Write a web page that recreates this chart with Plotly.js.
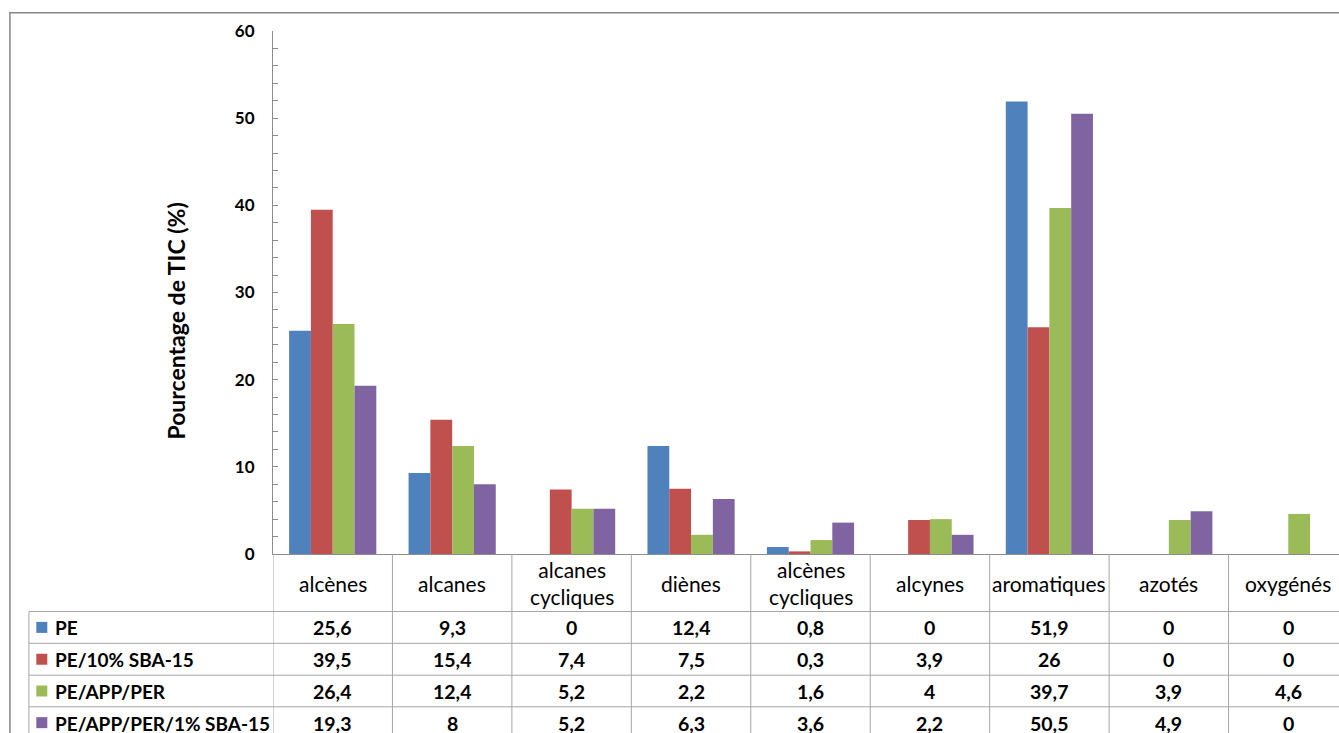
<!DOCTYPE html>
<html>
<head>
<meta charset="utf-8">
<script src="https://cdn.plot.ly/plotly-3.0.1.min.js"></script>
<style>html,body{margin:0;padding:0;background:#fff;}#chart{width:1339px;height:733px;}</style>
</head>
<body>
<div id="chart"></div>
<script>
// ---- Data ----
const categories = ["alcènes", "alcanes", "alcanes cycliques", "diènes", "alcènes cycliques", "alcynes", "aromatiques", "azotés", "oxygénés"];
const categoryLabels = ["alcènes", "alcanes", "alcanes<br>cycliques", "diènes", "alcènes<br>cycliques", "alcynes", "aromatiques", "azotés", "oxygénés"];
const seriesNames = ["PE", "PE/10% SBA-15", "PE/APP/PER", "PE/APP/PER/1% SBA-15"];
const valuesPE = [25.6, 9.3, 0, 12.4, 0.8, 0, 51.9, 0, 0];
const valuesPE_SBA = [39.5, 15.4, 7.4, 7.5, 0.3, 3.9, 26, 0, 0];
const valuesPE_APP_PER = [26.4, 12.4, 5.2, 2.2, 1.6, 4, 39.7, 3.9, 4.6];
const valuesPE_APP_PER_SBA = [19.3, 8, 5.2, 6.3, 3.6, 2.2, 50.5, 4.9, 0];
const yTickValues = [0, 10, 20, 30, 40, 50, 60];
const yTitle = "Pourcentage de TIC (%)";

const seriesValues = [valuesPE, valuesPE_SBA, valuesPE_APP_PER, valuesPE_APP_PER_SBA];
const colors = ["#4F81BD", "#C0504D", "#9BBB59", "#8064A2"];

// ---- Geometry helpers (pixel -> paper) ----
const W = 1339, H = 733;
const L = 272.5, R = 0, T = 31, B = H - 554;
const plotW = W - L - R, plotH = H - T - B;
const colW = 119.5;
const fx = px => (px - L) / plotW;
const fy = py => (H - B - py) / plotH;

const fontFam = "Lato, 'Open Sans', sans-serif";
const gridCol = "#a6a6a6";

const traces = seriesNames.map((name, i) => ({
  type: "bar",
  name: name,
  x: categories,
  y: seriesValues[i],
  marker: { color: colors[i], line: { width: 0 } },
  hovertemplate: "%{x}: %{y}<extra>" + name + "</extra>"
}));

const shapes = [];
const annotations = [];

// outer chart border
shapes.push({ type: "rect", xref: "paper", yref: "paper",
  x0: fx(9.3), x1: fx(W + 10), y0: fy(12.7), y1: fy(H + 10),
  line: { color: "#868686", width: 1.5 }, layer: "below" });

// table vertical lines at category boundaries
for (let i = 0; i <= categories.length; i++) {
  shapes.push({ type: "line", xref: "x", yref: "paper",
    x0: i - 0.5, x1: i - 0.5, y0: fy(554), y1: fy(H + 10),
    line: { color: gridCol, width: 1 } });
}
// table left line
shapes.push({ type: "line", xref: "paper", yref: "paper",
  x0: fx(28.3), x1: fx(28.3), y0: fy(611.5), y1: fy(H + 10),
  line: { color: gridCol, width: 1 } });
// table horizontal lines
const rowLines = [611.5, 643.3, 675.2, 706.8, 738.5];
rowLines.forEach(py => {
  shapes.push({ type: "line", xref: "paper", yref: "paper",
    x0: fx(28.3), x1: fx(W + 10), y0: fy(py), y1: fy(py),
    line: { color: gridCol, width: 1 } });
});

// category labels
categoryLabels.forEach((lab, i) => {
  annotations.push({ xref: "x", yref: "paper", x: categories[i], y: fy(583),
    text: lab, showarrow: false, xanchor: "center", yanchor: "middle",
    font: { family: fontFam, size: 21, color: "#000" } });
});

// rows: legend key + values
seriesNames.forEach((name, r) => {
  const cy = (rowLines[r] + rowLines[r + 1]) / 2;
  shapes.push({ type: "rect", xref: "paper", yref: "paper",
    x0: fx(35.7), x1: fx(46.7), y0: fy(cy - 5.5), y1: fy(cy + 5.5),
    fillcolor: colors[r], line: { width: 0 } });
  annotations.push({ xref: "paper", yref: "paper", x: fx(52), y: fy(cy + 0.5),
    text: "<b>" + name + "</b>", showarrow: false, xanchor: "left", yanchor: "middle",
    font: { family: fontFam, size: 19, color: "#000" } });
  seriesValues[r].forEach((v, i) => {
    annotations.push({ xref: "x", yref: "paper", x: categories[i], y: fy(cy + 0.5),
      text: "<b>" + String(v).replace(".", ",") + "</b>", showarrow: false,
      xanchor: "center", yanchor: "middle",
      font: { family: fontFam, size: 19.5, color: "#000" } });
  });
});

// y-axis title
annotations.push({ xref: "paper", yref: "paper", x: fx(175), y: fy(321),
  text: "<b>" + yTitle + "</b>", textangle: -90, showarrow: false,
  xanchor: "center", yanchor: "middle",
  font: { family: fontFam, size: 23, color: "#000" } });

const layout = {
  width: W, height: H,
  margin: { l: L, r: R, t: T, b: B, pad: 0 },
  paper_bgcolor: "#fff", plot_bgcolor: "#fff",
  barmode: "group", bargap: 0.27, bargroupgap: 0,
  showlegend: false,
  xaxis: {
    type: "category", categoryorder: "array", categoryarray: categories,
    range: [-0.5, -0.5 + plotW / colW],
    showticklabels: false, ticks: "", showgrid: false, zeroline: false,
    showline: true, linecolor: "#8c8c8c", linewidth: 1, fixedrange: true
  },
  yaxis: {
    range: [0, 60], tickvals: yTickValues, ticks: "inside", ticklen: 5,
    tickcolor: "#8c8c8c", tickwidth: 1,
    minor: { dtick: 2, ticks: "inside", ticklen: 5, tickcolor: "#8c8c8c", tickwidth: 1, showgrid: false },
    showgrid: false, zeroline: false, showline: true, linecolor: "#8c8c8c", linewidth: 1,
    ticklabelstandoff: 14,
    tickfont: { family: fontFam, size: 17, color: "#000", weight: 700 },
    fixedrange: true
  },
  shapes: shapes,
  annotations: annotations,
  font: { family: fontFam }
};

Plotly.newPlot("chart", traces, layout, { displayModeBar: false, staticPlot: true });
</script>
</body>
</html>
